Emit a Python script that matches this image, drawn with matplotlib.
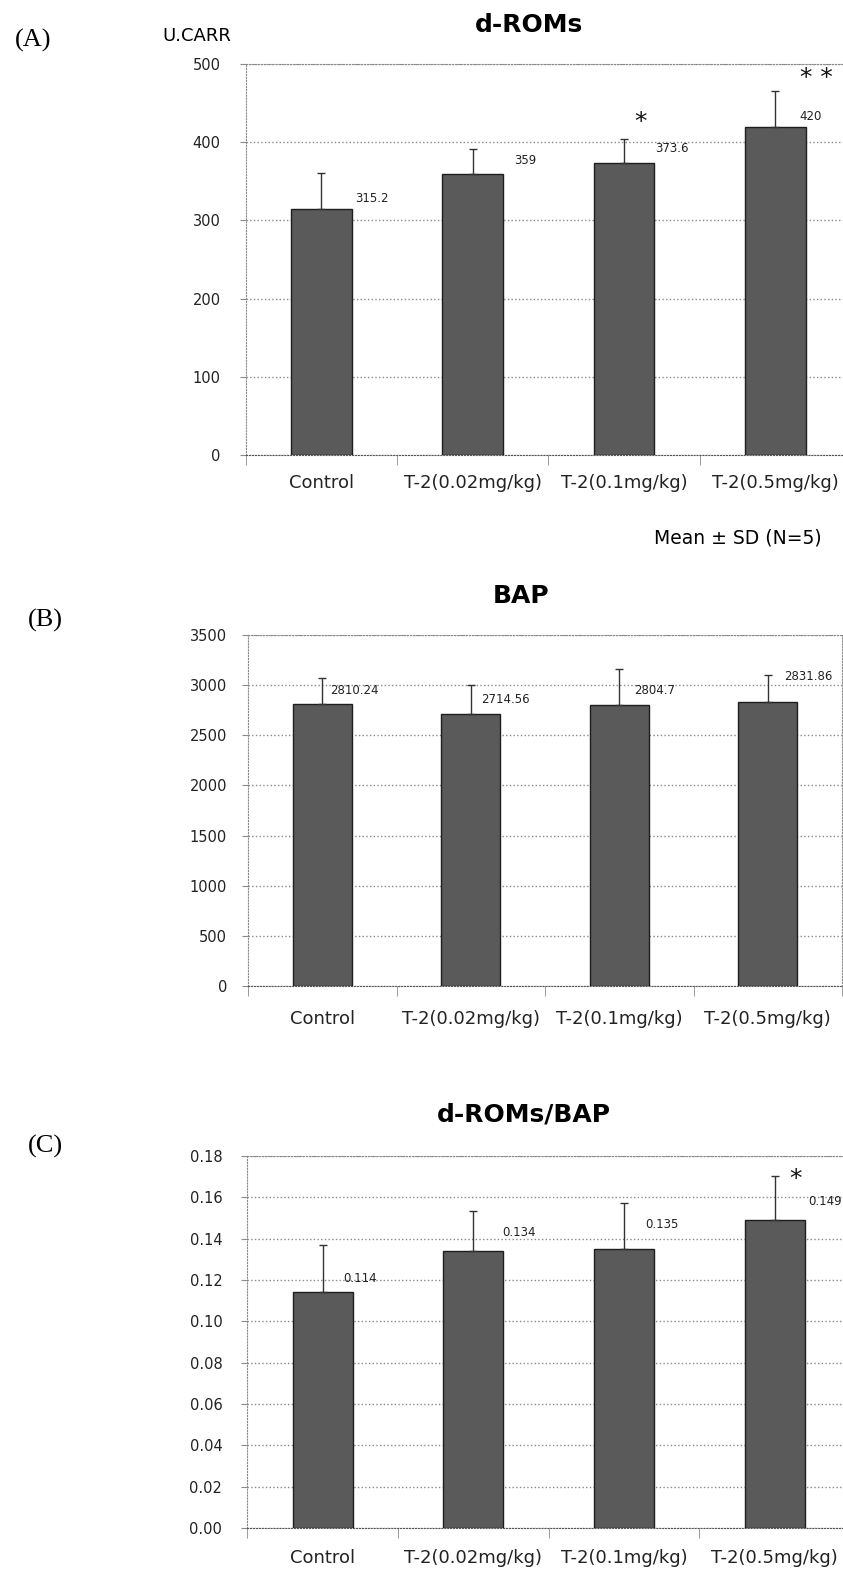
import matplotlib
matplotlib.use("Agg")
import matplotlib.pyplot as plt
import numpy as np

plt.rcParams['font.family'] = ['DejaVu Sans']

categories = ['Control', 'T-2(0.02mg/kg)', 'T-2(0.1mg/kg)', 'T-2(0.5mg/kg)']

droms_mean = [315.2, 359, 373.6, 420]
droms_sd = [45, 32, 31, 45]
droms_sig = ['', '', '*', '* *']

bap_mean = [2810.24, 2714.56, 2804.7, 2831.86]
bap_sd = [265, 284, 355, 266]
bap_sig = ['', '', '', '']

ratio_mean = [0.114, 0.134, 0.135, 0.149]
ratio_sd = [0.023, 0.0195, 0.0225, 0.0215]
ratio_sig = ['', '', '', '*']

W, H = 843, 1569
fig = plt.figure(figsize=(W / 100, H / 100), dpi=100)

BAR = '#5a5a5a'
GRID = '#8a8a8a'


def panel(rect, mean, sd, sig, ymax, step, fmt, label_off, star_off, ypad, xpad):
    ax = fig.add_axes(rect)
    x = np.arange(len(mean))
    ax.bar(x, mean, width=0.40, color=BAR, edgecolor='#1e1e1e', linewidth=1, zorder=3)
    ax.errorbar(x, mean, yerr=[np.zeros(len(sd)), sd], fmt='none', ecolor='#333333',
                elinewidth=1, capsize=3, capthick=1, zorder=4)
    ax.set_xlim(-0.5, len(mean) - 0.5)
    ax.set_ylim(0, ymax)
    ticks = np.arange(0, ymax + step / 2, step)
    ax.set_yticks(ticks)
    ax.set_yticklabels([fmt.format(t) for t in ticks])
    ax.yaxis.grid(True, linestyle=':', color=GRID, linewidth=1, zorder=0)
    ax.set_xticks(x)
    ax.set_xticklabels(categories)
    ax.set_xticks(np.arange(-0.5, len(mean), 1.0), minor=True)
    ax.tick_params(axis='x', which='major', length=0, pad=xpad, labelsize=13, labelcolor='#222222')
    ax.tick_params(axis='x', which='minor', length=7, color=GRID, direction='out')
    ax.tick_params(axis='y', length=4, color=GRID, pad=ypad, labelsize=10.5, labelcolor='#222222')
    for s in ['left', 'right', 'top']:
        ax.spines[s].set_linestyle(':')
        ax.spines[s].set_color(GRID)
    ax.spines['bottom'].set_linestyle(':')
    ax.spines['bottom'].set_color('#555555')

    for i, m in enumerate(mean):
        dx, dy = label_off[i]
        ax.annotate('{:g}'.format(m), (i, m), xytext=(dx, dy), textcoords='offset pixels',
                    ha='left', va='center', fontsize=8.5, color='#222222', zorder=5)
        if sig[i]:
            sx, sy = star_off[i]
            ax.annotate(sig[i], (i, m + sd[i]), xytext=(sx, sy), textcoords='offset pixels',
                        ha='center', va='center', fontsize=18, color='#111111', zorder=5)
    return ax


def rect(left, right, top, bottom):
    return [left / W, 1 - bottom / H, (right - left) / W, (bottom - top) / H]


# (A) d-ROMs
panel(rect(245.7, 851, 64, 455), droms_mean, droms_sd, droms_sig, 500, 100, '{:.0f}',
      [(34, 10), (41, 14), (31, 14), (24, 10)],
      [None, None, (16, 17), (41, 13)], 14, 14)
fig.text(529 / W, 1 - 25 / H, 'd-ROMs', ha='center', va='center', fontsize=18, fontweight='bold')
fig.text(197 / W, 1 - 36 / H, 'U.CARR', ha='center', va='center', fontsize=13)
fig.text(33 / W, 1 - 40 / H, '(A)', ha='center', va='center', fontsize=19, family='Liberation Serif')
fig.text(822 / W, 1 - 538 / H, 'Mean \u00b1 SD (N=5)', ha='right', va='center', fontsize=13.5)

# (B) BAP
panel(rect(248, 842, 635, 986), bap_mean, bap_sd, bap_sig, 3500, 500, '{:.0f}',
      [(8, 14), (10, 14), (15, 14), (16, 26)],
      [None] * 4, 11, 17)
fig.text(521 / W, 1 - 596 / H, 'BAP', ha='center', va='center', fontsize=18, fontweight='bold')
fig.text(45 / W, 1 - 620 / H, '(B)', ha='center', va='center', fontsize=19, family='Liberation Serif')

# (C) d-ROMs/BAP
panel(rect(247.3, 850, 1156, 1528), ratio_mean, ratio_sd, ratio_sig, 0.18, 0.02, '{:.2f}',
      [(21, 14), (29, 19), (21, 24), (34, 19)],
      [None, None, None, (21, -3)], 14, 15)
fig.text(524 / W, 1 - 1115 / H, 'd-ROMs/BAP', ha='center', va='center', fontsize=18, fontweight='bold')
fig.text(45 / W, 1 - 1146 / H, '(C)', ha='center', va='center', fontsize=19, family='Liberation Serif')

fig.savefig('out.png', dpi=100)
